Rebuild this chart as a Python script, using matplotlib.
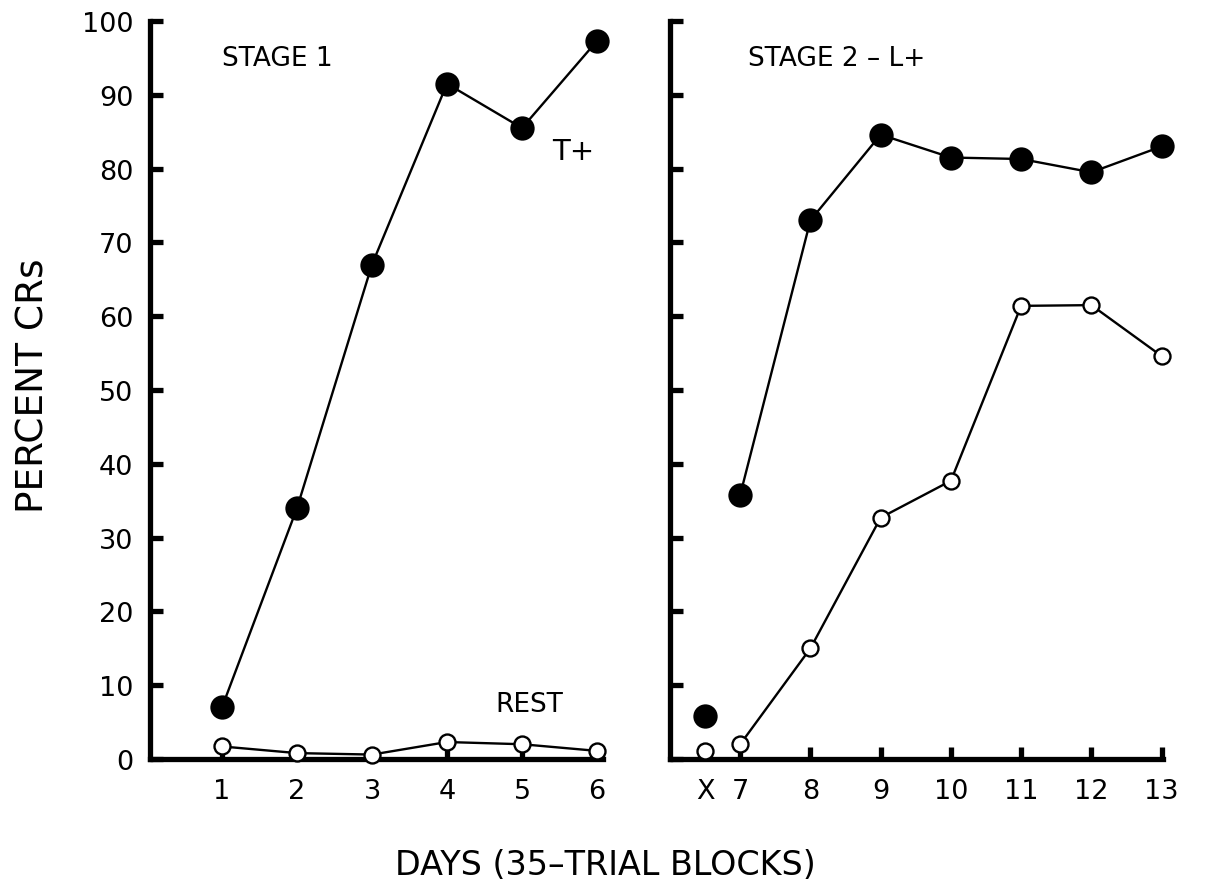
import matplotlib
matplotlib.use("Agg")
import matplotlib.pyplot as plt

# Data
stage1_days = [1, 2, 3, 4, 5, 6]
stage1_tplus = [7.0, 34.0, 67.0, 91.5, 85.5, 97.3]
stage1_rest = [1.7, 0.8, 0.6, 2.3, 2.0, 1.1]

stage2_x_pos = 6.5
stage2_x_tplus = 5.8
stage2_x_rest = 1.1
stage2_days = [7, 8, 9, 10, 11, 12, 13]
stage2_lplus = [35.8, 73.0, 84.6, 81.5, 81.3, 79.5, 83.0]
stage2_rest = [2.0, 15.0, 32.7, 37.7, 61.4, 61.5, 54.6]

left_ticklabels = ["1", "2", "3", "4", "5", "6"]
right_ticks = [6.5, 7, 8, 9, 10, 11, 12, 13]
right_ticklabels = ["X", "7", "8", "9", "10", "11", "12", "13"]
y_ticks = [0, 10, 20, 30, 40, 50, 60, 70, 80, 90, 100]

plt.rcParams['font.family'] = ['DejaVu Sans']

fig = plt.figure(figsize=(12.1, 8.87), dpi=100)
W, H = 1210, 887
ax1 = fig.add_axes([150 / W, 1 - 760 / H, (603 - 150) / W, (760 - 22) / H])
ax2 = fig.add_axes([670 / W, 1 - 760 / H, (1163 - 670) / W, (760 - 22) / H])

spine_lw = 3.8
for ax in (ax1, ax2):
    for s in ("top", "right"):
        ax.spines[s].set_visible(False)
    for s in ("left", "bottom"):
        ax.spines[s].set_linewidth(spine_lw)
        ax.spines[s].set_capstyle("projecting")
    ax.set_ylim(0, 100)
    ax.set_yticks(y_ticks)
    ax.tick_params(axis="both", direction="in", length=9, width=3.8,
                   labelsize=19.5)
    ax.tick_params(axis="y", pad=12)
    ax.tick_params(axis="x", pad=14)

filled = dict(marker="o", markersize=16, color="black", markerfacecolor="black",
              linewidth=1.7, markeredgewidth=1.5, clip_on=False)
opened = dict(marker="o", markersize=11.5, color="black", markerfacecolor="white",
              linewidth=1.7, markeredgewidth=1.7, clip_on=False)

# Left panel
ax1.plot(stage1_days, stage1_tplus, **filled, zorder=3)
ax1.plot(stage1_days, stage1_rest, **opened, zorder=3)
ax1.set_xlim(0.04, 6.08)
ax1.set_xticks(stage1_days)
ax1.set_xticklabels(left_ticklabels)
ax1.text(1.0, 95.0, "STAGE 1", fontsize=19, ha="left", va="center")
ax1.text(5.4, 82.4, "T+", fontsize=21, ha="left", va="center")
ax1.text(4.64, 7.4, "REST", fontsize=19, ha="left", va="center")

# Right panel
ax2.plot([stage2_x_pos], [stage2_x_tplus], linestyle="none",
         **{k: v for k, v in filled.items() if k != "linewidth"}, zorder=3)
ax2.plot([stage2_x_pos], [stage2_x_rest], linestyle="none",
         **{k: v for k, v in opened.items() if k != "linewidth"}, zorder=3)
ax2.plot(stage2_days, stage2_lplus, **filled, zorder=3)
ax2.plot(stage2_days, stage2_rest, **opened, zorder=3)
ax2.set_xlim(6.0, 13.02)
ax2.set_xticks(right_ticks)
ax2.set_xticklabels(right_ticklabels)
ax2.tick_params(axis="y", labelleft=False)
ax2.text(7.11, 95.0, "STAGE 2 \u2013 L+", fontsize=19, ha="left", va="center")

fig.text(34 / W, 1 - 386 / H, "PERCENT CRs", fontsize=27, rotation=90,
         ha="center", va="center")
fig.text(605 / W, 1 - 866 / H, "DAYS (35\u2013TRIAL BLOCKS)", fontsize=24,
         ha="center", va="center")

fig.savefig("out.png", dpi=100)
